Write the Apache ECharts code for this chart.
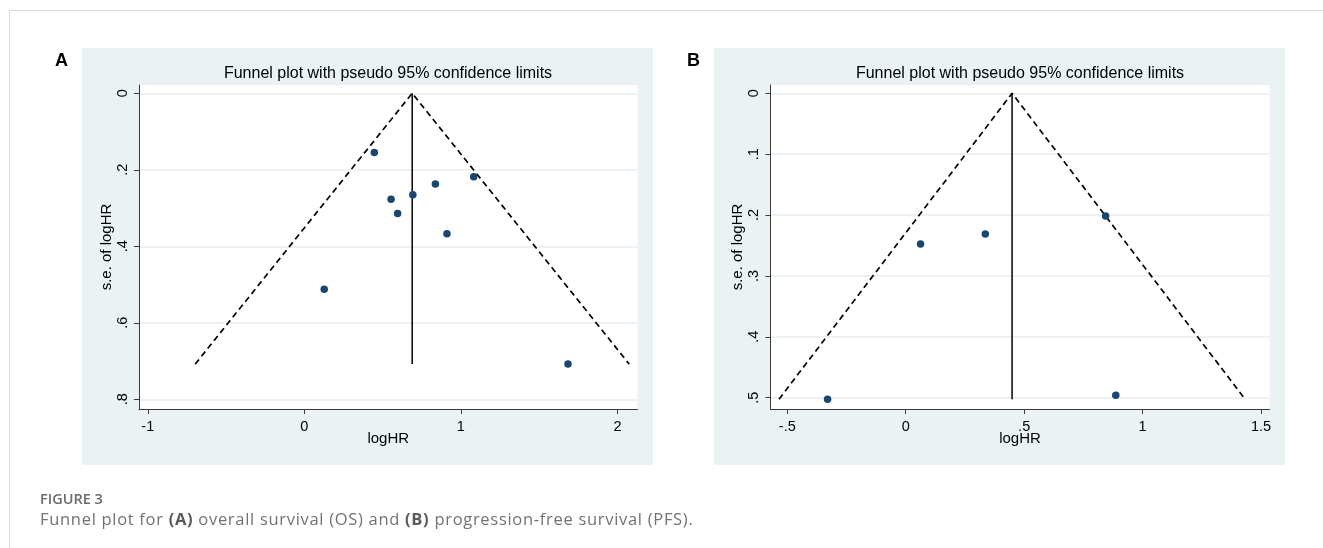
<!DOCTYPE html>
<html>
<head>
<meta charset="utf-8">
<script src="https://cdn.jsdelivr.net/npm/echarts@6/dist/echarts.min.js"></script>
<style>
  html, body { margin: 0; padding: 0; background: #fff; }
  #wrap { position: relative; width: 1323px; height: 548px; overflow: hidden; }
  #chart { position: absolute; left: 0; top: 0; width: 1323px; height: 548px; }
  #frame { position: absolute; left: 9px; top: 10px; right: 0; bottom: 0; border-top: 1px solid #d9d9d9; border-left: 1px solid #d9d9d9; }
  .cap { position: absolute; left: 40px; font-family: "Open Sans", "Noto Sans", sans-serif; color: #727272; white-space: nowrap; }
  #figlab { top: 489px; font-size: 14.5px; font-weight: 600; color: #6a6a6a; }
  #figtxt { top: 507px; font-size: 16.5px; font-weight: 400; letter-spacing: 0.7px; }
  #figtxt b { font-weight: 700; color: #5a5a5a; }
</style>
</head>
<body>
<div id="wrap">
  <div id="frame"></div>
  <div id="chart"></div>
  <div class="cap" id="figlab">FIGURE 3</div>
  <div class="cap" id="figtxt">Funnel plot for <b>(A)</b> overall survival (OS) and <b>(B)</b> progression-free survival (PFS).</div>
</div>
<script>
// ---- Panel A: overall survival (OS) ----
const osLogHR = [0.447, 1.082, 0.837, 0.693, 0.554, 0.596, 0.911, 0.127, 1.684];
const osSE    = [0.155, 0.218, 0.237, 0.265, 0.277, 0.314, 0.367, 0.512, 0.708];
const osPooled = 0.689;          // vertical line position (pooled logHR)
const osSEMax = 0.708;           // bottom of funnel
const osFunnelX = [-0.697, 0.689, 2.075]; // lower limit, apex, upper limit
const osXTicks = [-1, 0, 1, 2];
const osYTicks = [0, 0.2, 0.4, 0.6, 0.8];

// ---- Panel B: progression-free survival (PFS) ----
const pfsLogHR = [-0.330, 0.0625, 0.336, 0.844, 0.887];
const pfsSE    = [0.5025, 0.2475, 0.231, 0.2015, 0.496];
const pfsPooled = 0.449;
const pfsSEMax = 0.5025;
const pfsFunnelX = [-0.535, 0.449, 1.433];
const pfsXTicks = [-0.5, 0, 0.5, 1, 1.5];
const pfsYTicks = [0, 0.1, 0.2, 0.3, 0.4, 0.5];

const titleText = 'Funnel plot with pseudo 95% confidence limits';
const xName = 'logHR';
const yName = 's.e. of logHR';

const FONT = '"Liberation Sans", Arial, sans-serif';
const stataFmt = v => {
  if (v === 0) return '0';
  let s = String(+v.toFixed(4));
  return s.replace(/^(-?)0\./, '$1.');
};

function xAxisCfg(gi, min, max, ticks) {
  return {
    type: 'value', gridIndex: gi, min: min, max: max,
    name: xName, nameLocation: 'middle', nameGap: 22, nameMoveOverlap: false,
    nameTextStyle: { fontFamily: FONT, fontSize: 15, color: '#000' },
    axisLine: { show: true, onZero: false, lineStyle: { color: '#3a3a3a', width: 1 } },
    axisTick: { show: true, length: 5, customValues: ticks, lineStyle: { color: '#3a3a3a', width: 1 } },
    axisLabel: { customValues: ticks, formatter: stataFmt, margin: 10, fontFamily: FONT, fontSize: 14.5, color: '#000' },
    splitLine: { show: false }
  };
}
function yAxisCfg(gi, min, max, ticks) {
  return {
    type: 'value', gridIndex: gi, min: min, max: max, inverse: true,
    name: yName, nameLocation: 'middle', nameGap: 25,
    nameTextStyle: { fontFamily: FONT, fontSize: 15, color: '#000' },
    axisLine: { show: true, onZero: false, lineStyle: { color: '#3a3a3a', width: 1 } },
    axisTick: { show: true, length: 5, customValues: ticks, lineStyle: { color: '#3a3a3a', width: 1 } },
    axisLabel: { customValues: ticks, formatter: stataFmt, rotate: 90, margin: 9, fontFamily: FONT, fontSize: 14.5, color: '#000' },
    splitLine: { show: true, lineStyle: { color: '#e6eef1', width: 1.5 } }
  };
}

function seriesFor(gi, xs, ses, pooled, seMax, fx) {
  return [
    {
      type: 'line', xAxisIndex: gi, yAxisIndex: gi, symbol: 'none', silent: true,
      lineStyle: { color: '#000', width: 1.7, type: [6, 4] },
      data: [[fx[0], seMax], [fx[1], 0], [fx[2], seMax]], z: 3
    },
    {
      type: 'line', xAxisIndex: gi, yAxisIndex: gi, symbol: 'none', silent: true,
      lineStyle: { color: '#000', width: 1.5 },
      data: [[pooled, 0], [pooled, seMax]], z: 3
    },
    {
      type: 'scatter', xAxisIndex: gi, yAxisIndex: gi, symbol: 'circle', symbolSize: 7.5,
      itemStyle: { color: '#1a476f', opacity: 1 },
      data: xs.map((x, i) => [x, ses[i]]), z: 4
    }
  ];
}

const chart = echarts.init(document.getElementById('chart'), null, { renderer: 'canvas' });
chart.setOption({
  animation: false,
  backgroundColor: 'transparent',
  graphic: [
    { type: 'rect', shape: { x: 82, y: 48, width: 571, height: 417 }, style: { fill: '#eaf2f3' }, z: -10, silent: true },
    { type: 'rect', shape: { x: 714, y: 48, width: 571, height: 417 }, style: { fill: '#eaf2f3' }, z: -10, silent: true },
    { type: 'text', x: 55, y: 52, style: { text: 'A', font: 'bold 18px ' + FONT, fill: '#000' }, silent: true },
    { type: 'text', x: 687, y: 52, style: { text: 'B', font: 'bold 18px ' + FONT, fill: '#000' }, silent: true }
  ],
  title: [
    { text: titleText, left: 388, top: 66, textAlign: 'center', padding: 0,
      textStyle: { fontFamily: FONT, fontSize: 16, fontWeight: 'normal', color: '#000' } },
    { text: titleText, left: 1020, top: 66, textAlign: 'center', padding: 0,
      textStyle: { fontFamily: FONT, fontSize: 16, fontWeight: 'normal', color: '#000' } }
  ],
  grid: [
    { left: 139, top: 85, width: 498.5, height: 324, show: true, backgroundColor: '#fff', borderWidth: 0, containLabel: false },
    { left: 770.5, top: 85, width: 499, height: 324, show: true, backgroundColor: '#fff', borderWidth: 0, containLabel: false }
  ],
  xAxis: [
    xAxisCfg(0, -1.056, 2.128, osXTicks),
    xAxisCfg(1, -0.571, 1.536, pfsXTicks)
  ],
  yAxis: [
    yAxisCfg(0, -0.0217, 0.8254, osYTicks),
    yAxisCfg(1, -0.0136, 0.5186, pfsYTicks)
  ],
  series: [].concat(
    seriesFor(0, osLogHR, osSE, osPooled, osSEMax, osFunnelX),
    seriesFor(1, pfsLogHR, pfsSE, pfsPooled, pfsSEMax, pfsFunnelX)
  )
});
</script>
</body>
</html>
